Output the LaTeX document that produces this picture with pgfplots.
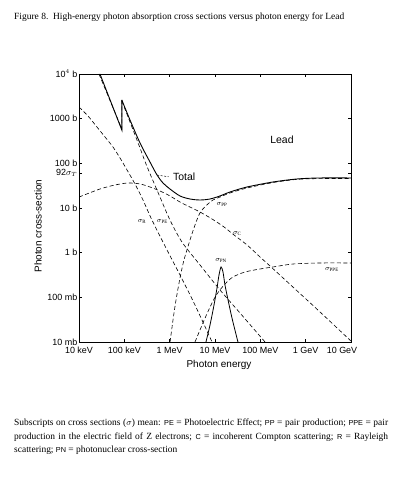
\documentclass[border=0pt]{standalone}
\usepackage{pgfplots}
\pgfplotsset{compat=1.18}
\usepackage{fontspec}
\setmainfont{Liberation Serif}
\setsansfont{Liberation Sans}
\newcommand\ab[1]{{\sffamily\fontsize{7.3}{9}\selectfont #1}}
\newcommand\sig[1]{$\sigma_{\mathrm{#1}}$}
\begin{document}
\begin{tikzpicture}[x=1bp,y=1bp]
\useasboundingbox (0,0) rectangle (399,478);
\begin{axis}[
  at={(79bp,136bp)}, anchor=south west,
  scale only axis, width=272bp, height=268bp,
  xmode=log, ymode=log,
  xmin=0.01, xmax=10000, ymin=0.01, ymax=10000,
  xtick={0.01,0.1,1,10,100,1000,10000},
  xticklabels={10 keV,100 keV,1 MeV,10 MeV,100 MeV,1 GeV,{\hspace*{-18bp}10 GeV}},
  ytick={0.01,0.1,1,10,61.2,100,1000,10000},
  yticklabels={10 mb,100 mb,1 b,10 b,{92$\sigma_{T}$},100 b,1000 b,10$^4$ b},
  minor tick style={draw=none},
  tick align=inside, major tick length=3bp,
  tick style={black, line width=0.6bp},
  tick label style={font=\sffamily\fontsize{9}{10}\selectfont, inner sep=1.5bp},
  xticklabel style={yshift=-3.5bp},
  axis line style={line width=0.8bp},
  every axis plot/.append style={black},
]
% Total (solid)
\addplot[line width=0.9bp] coordinates {(0.0290,10000) (0.088,557) (0.088,2618)};
\addplot[line width=0.9bp, smooth] coordinates {(0.088,2618) (0.1334,933) (0.222,285) (0.368,107) (0.526,54.8) (0.713,36.3) (1.016,26.6) (1.69,18.6) (2.81,15.9) (4.67,15.1) (7.76,15.9) (12.9,18.6) (21.4,22.8) (50.8,29.5) (190,38.2) (644,44.6) (2070,47.0) (10000,47.0)};
% Photoelectric (dashed)
\addplot[line width=0.6bp, dash pattern=on 4bp off 2.5bp] coordinates {(0.0276,10000) (0.088,590) (0.088,2490)};
\addplot[line width=0.6bp, dash pattern=on 4bp off 2.5bp, smooth] coordinates {(0.088,2490) (0.1334,842) (0.222,220) (0.316,85) (0.612,17.6) (1.016,5.38) (1.87,1.73) (4.67,0.530) (12.9,0.146) (35.6,0.0446) (127,0.0100)};
% Rayleigh
\addplot[line width=0.6bp, dash pattern=on 4bp off 2.5bp, smooth] coordinates {(0.01,1824) (0.0158,1148) (0.0249,650) (0.0375,389) (0.0562,232) (0.0801,132) (0.1146,71.0) (0.1718,34.5) (0.258,15.1) (0.407,5.38) (0.873,1.15) (1.69,0.316) (3.62,0.0673) (8.59,0.0100)};
% Compton
\addplot[line width=0.6bp, dash pattern=on 4bp off 2.5bp, smooth] coordinates {(0.01,17.6) (0.029,26.6) (0.0622,32.7) (0.1205,36.3) (0.222,34.5) (0.368,29.5) (0.612,24.0) (1.016,18.6) (1.69,13.6) (2.81,10.5) (4.67,8.13) (8.59,5.68) (15.8,3.76) (26.2,2.49) (50.8,1.49) (98.4,0.800) (163,0.504) (582,0.154) (2070,0.0470) (10000,0.0105)};
% Pair production (nuclear field)
\addplot[line width=0.6bp, dash pattern=on 4bp off 2.5bp, smooth] coordinates {(1.02,0.01) (1.185,0.0311) (1.38,0.0871) (1.69,0.271) (2.07,0.686) (2.81,1.92) (3.62,4.16) (4.67,7.8) (6.32,11.2) (9.04,15.1) (12.9,17.6) (21.4,21.7) (50.8,28.0) (190,37.1) (644,43.7) (2070,45.5) (10000,45.8)};
% Pair production (electron field)
\addplot[line width=0.6bp, dash pattern=on 4bp off 2.5bp, smooth] coordinates {(3.62,0.01) (4.67,0.0186) (6.32,0.0382) (8.59,0.0746) (11.07,0.119) (16.6,0.199) (24.9,0.285) (45.9,0.369) (98.4,0.431) (190,0.478) (526,0.557) (2070,0.587) (10000,0.587)};
% Photonuclear (solid peak)
\addplot[line width=0.8bp, smooth] coordinates {(6.32,0.01) (7.76,0.024) (9.51,0.0673) (11.07,0.162) (12.25,0.316) (13.6,0.478) (15.0,0.369) (16.6,0.189) (19.4,0.0871) (23.7,0.0344) (32.1,0.01)};
% labels
\node[font=\sffamily\fontsize{10.5}{12}\selectfont] at (axis cs:300,333) {Lead};
\node[anchor=west, font=\sffamily\fontsize{10.5}{12}\selectfont, inner sep=0] at (axis cs:1.18,49.5) {Total};
\draw[line width=0.5bp, dash pattern=on 2bp off 1.5bp] (axis cs:0.53,54.5) -- (axis cs:0.95,50);
\node[font=\fontsize{7}{8}\selectfont] at (axis cs:0.245,4.9) {\sig{R}};
\node[font=\fontsize{7}{8}\selectfont] at (axis cs:0.69,4.9) {\sig{PE}};
\node[font=\fontsize{7}{8}\selectfont] at (axis cs:14.3,11.7) {\sig{PP}};
\node[font=\fontsize{7}{8}\selectfont] at (axis cs:31,2.75) {\sig{C}};
\node[font=\fontsize{7}{8}\selectfont] at (axis cs:13.6,0.66) {\sig{PN}};
\node[font=\fontsize{7}{8}\selectfont] at (axis cs:3800,0.41) {\sig{PPE}};
\end{axis}
\node[rotate=90, font=\sffamily\fontsize{10}{12}\selectfont] at (38,252) {Photon cross-section};
\node[font=\sffamily\fontsize{10}{12}\selectfont] at (219,113) {Photon energy};
\node[anchor=base west, inner sep=0, font=\fontsize{9.5}{11}\selectfont] at (14,458) {Figure 8.\ \ High-energy photon absorption cross sections versus photon energy for Lead};
\node[anchor=north west, inner sep=0, text width=374bp, align=justify, font=\fontsize{9.5}{13.5}\selectfont] at (14,59) {Subscripts on cross sections ($\sigma$) mean: \ab{PE} = Photoelectric Effect; \ab{PP} = pair production; \ab{PPE} = pair production in the electric field of Z electrons; \ab{C} = incoherent Compton scattering; \ab{R} = Rayleigh scattering; \ab{PN} = photonuclear cross-section};
\end{tikzpicture}
\end{document}
